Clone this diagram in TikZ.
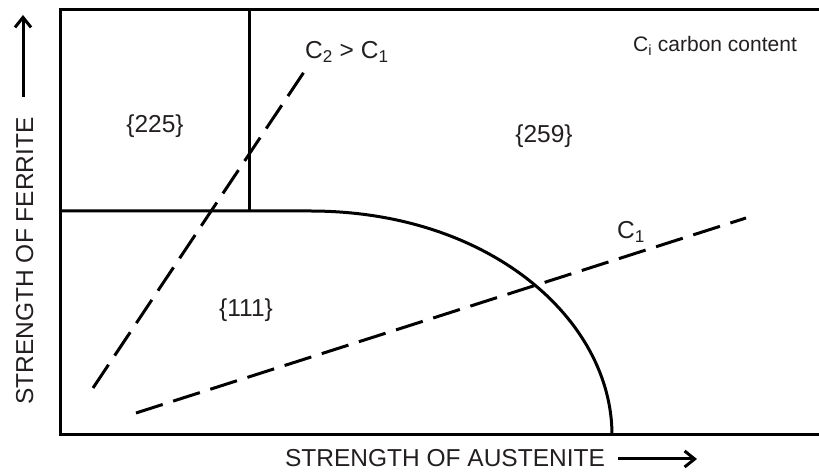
\documentclass[tikz,border=0pt]{standalone}
\usepackage{fontspec}
\setmainfont{Liberation Sans}
\usepackage{xcolor}
\usepackage{tikz}
\usetikzlibrary{arrows.meta}
\definecolor{ink}{RGB}{35,31,32}

\begin{document}
\begin{tikzpicture}[x=1pt, y=1pt,
    lbl/.style={font=\fontsize{24.5}{29}\selectfont, text=ink, inner sep=0pt},
    notelbl/.style={lbl, font=\fontsize{21}{25}\selectfont},
    bound/.style={line width=3pt, line join=miter},
    cline/.style={line width=3pt, dash pattern=on 28pt off 11pt},
    axarr/.style={line width=3pt, -{Straight Barb[length=10pt, width=16pt]}}
  ]
  \useasboundingbox (0,0) rectangle (819,473);
  % ---------------- frame and boundaries ----------------
  \draw[bound] (819,463) -- (60,463) -- (60,38) -- (819,38);
  \draw[bound] (249,463) -- (249,262);
  \draw[bound] (60,262) -- (310,262) .. controls (490,262) and (612,153) .. (612,38);

  % ---------------- carbon lines ----------------
  \coordinate (c2a) at (93,85);
  \coordinate (c2b) at (308,407);
  \coordinate (c1a) at (136,60);
  \coordinate (c1b) at (746,255);
  \draw[cline] (c2a) -- (c2b);
  \draw[cline] (c1a) -- (c1b);

  % ---------------- labels ----------------
  \node[lbl, anchor=base] (l225) at (155,340) {\{225\}};
  \node[lbl, anchor=base] (l259) at (544,330) {\{259\}};
  \node[lbl, anchor=base] (l111) at (246,156) {\{111\}};
  \node[lbl, anchor=base west] (lc21) at (305,414) {C\textsubscript{2} > C\textsubscript{1}};
  \node[lbl, anchor=base west] (lc1) at (617,234) {C\textsubscript{1}};
  \node[notelbl, anchor=base west] (note) at (633,421) {C\textsubscript{i} carbon content};

  % ---------------- axes ----------------
  \node[lbl, anchor=base] (xlab) at (445,6) {STRENGTH OF AUSTENITE};
  \node[lbl, anchor=base, rotate=90] (ylab) at (33,212) {STRENGTH OF FERRITE};
  \coordinate (xa0) at (618,14);
  \coordinate (xa1) at (697,14);
  \coordinate (ya0) at (23,376);
  \coordinate (ya1) at (23,458);
  \draw[axarr] (xa0) -- (xa1);
  \draw[axarr] (ya0) -- (ya1);
\end{tikzpicture}
\end{document}
